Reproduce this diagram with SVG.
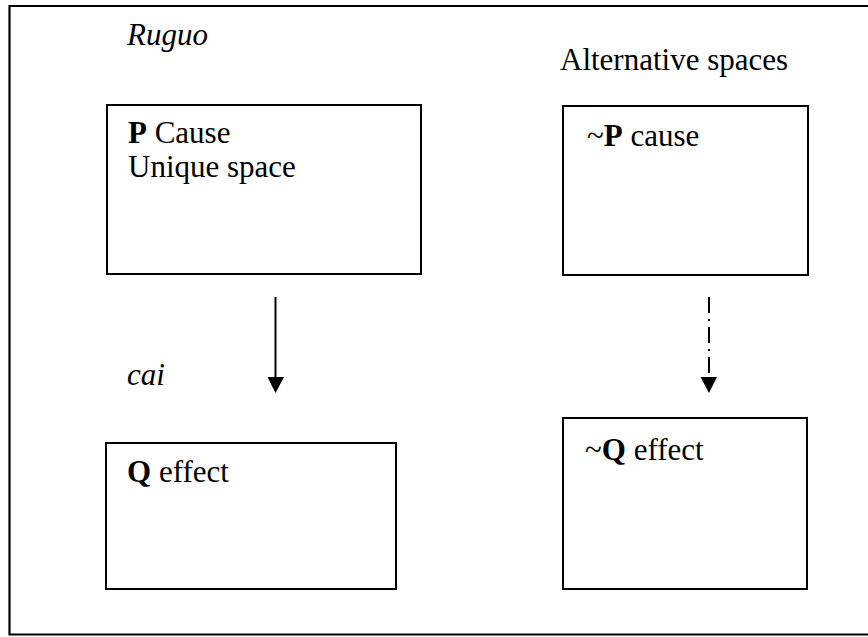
<svg xmlns="http://www.w3.org/2000/svg" width="868" height="637" viewBox="0 0 868 637">
  <style>
    .frame { fill: none; stroke: #000; stroke-width: 2.2; }
    .box { fill: #fff; stroke: #000; stroke-width: 2; }
    .t { font-size: 31px; fill: #000; }
    .i { font-style: italic; }
    .b { font-weight: bold; }
    .link { stroke: #000; stroke-width: 2; fill: none; }
    .dashdot { stroke-dasharray: 16 6 2 6; }
    .head { fill: #000; stroke: none; }
  </style>

  <rect width="868" height="637" fill="#fff"/>

  <!-- open frame: top, left and bottom edges run off the right side -->
  <path class="frame" d="M872,6 H9.5 V634.5 H872"/>

  <!-- column headings -->
  <g id="label-ruguo">
    <text class="t i" font-family="Liberation Serif, serif" x="127" y="45">Ruguo</text>
  </g>
  <g id="label-alternative">
    <text class="t" font-family="Liberation Serif, serif" font-size="32.5" x="560" y="70">Alternative spaces</text>
  </g>
  <g id="label-cai">
    <text class="t i" font-family="Liberation Serif, serif" x="127" y="385">cai</text>
  </g>

  <!-- cause / effect nodes -->
  <g id="node-p">
    <rect class="box" x="107" y="105" width="314" height="169"/>
    <text class="t" font-family="Liberation Serif, serif" x="128" y="143"><tspan class="b">P</tspan> Cause</text>
    <text class="t" font-family="Liberation Serif, serif" x="128" y="177">Unique space</text>
  </g>

  <g id="node-not-p">
    <rect class="box" x="563" y="106" width="245" height="169"/>
    <text class="t" font-family="Liberation Serif, serif" x="587" y="146">~<tspan class="b">P</tspan> cause</text>
  </g>

  <g id="node-q">
    <rect class="box" x="106" y="443" width="290" height="146"/>
    <text class="t" font-family="Liberation Serif, serif" x="127" y="482"><tspan class="b">Q</tspan> effect</text>
  </g>

  <g id="node-not-q">
    <rect class="box" x="563" y="418" width="244" height="171"/>
    <text class="t" font-family="Liberation Serif, serif" x="585" y="460">~<tspan class="b">Q</tspan> effect</text>
  </g>

  <!-- connectors -->
  <g id="connectors">
    <line class="link" x1="275.5" y1="297" x2="275.5" y2="379"/>
    <polygon class="head" points="267.5,377 284,377 275.5,393"/>

    <line class="link dashdot" x1="709" y1="297" x2="709" y2="375"/>
    <polygon class="head" points="700.5,377 717,377 709,393"/>
  </g>
</svg>
